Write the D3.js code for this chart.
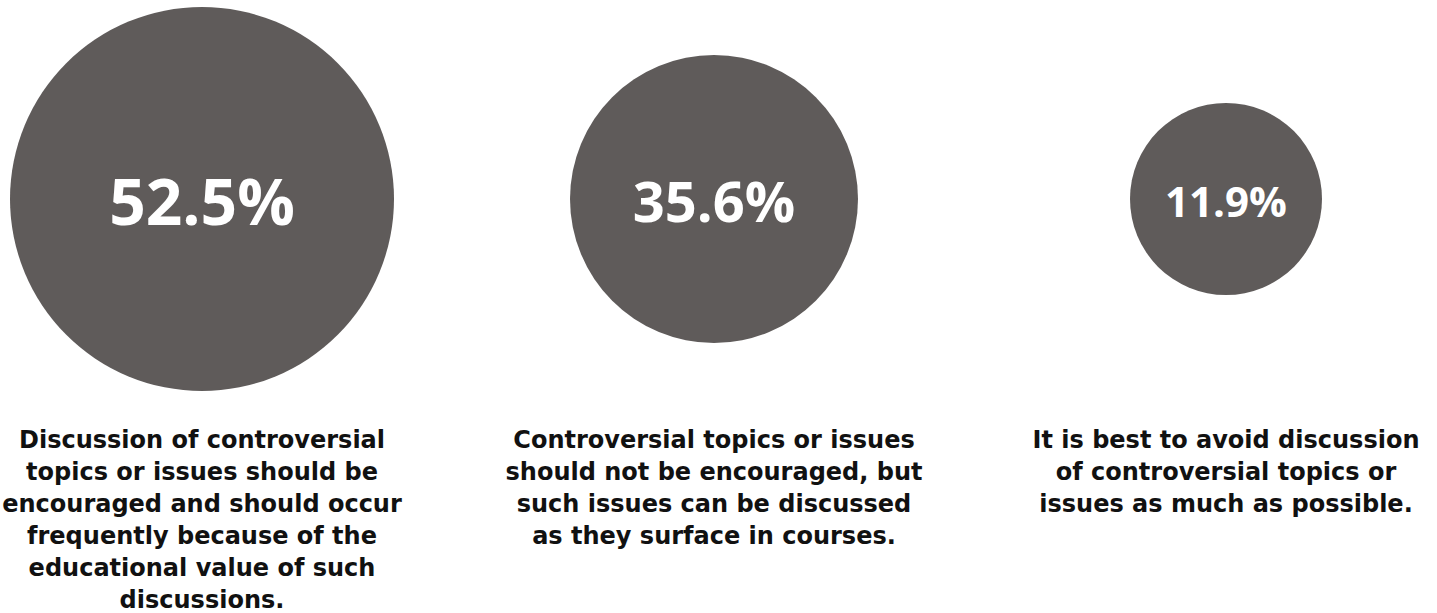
<!DOCTYPE html>
<html>
<head>
<meta charset="utf-8">
<script src="https://cdn.jsdelivr.net/npm/d3@7"></script>
<style>
  html, body { margin: 0; padding: 0; background: #ffffff; }
  svg { display: block; }
</style>
</head>
<body>
<svg id="chart" width="1437" height="613"></svg>
<script>
// Survey responses on discussing controversial topics in courses
const categories = ["encourage", "allow", "avoid"];
const values = [52.5, 35.6, 11.9];
const labelLines = [
  ["Discussion of controversial", "topics or issues should be", "encouraged and should occur", "frequently because of the", "educational value of such", "discussions."],
  ["Controversial topics or issues", "should not be encouraged, but", "such issues can be discussed", "as they surface in courses."],
  ["It is best to avoid discussion", "of controversial topics or", "issues as much as possible."]
];

const width = 1437, height = 613;
const svg = d3.select("#chart");

const x = d3.scalePoint().domain(categories).range([202, 1226]);
const cy = 199;

// Bubbles sized by rank of the share (largest first)
const order = values.map((v, i) => i).sort((a, b) => values[b] - values[a]);
const rank = new Map(order.map((idx, r) => [categories[idx], r]));
const radius = d3.scaleLinear().domain([0, 2]).range([192, 96]);
const fontSize = d3.scaleOrdinal().domain([0, 1, 2]).range([64, 56, 42]);

const data = categories.map((c, i) => ({ cat: c, value: values[i], lines: labelLines[i] }));

const g = svg.selectAll("g.item").data(data).join("g").attr("class", "item")
  .attr("transform", d => `translate(${x(d.cat)},0)`);

g.append("circle")
  .attr("cx", 0)
  .attr("cy", cy)
  .attr("r", d => radius(rank.get(d.cat)))
  .attr("fill", "#5f5b5a");

g.append("text")
  .attr("x", 0)
  .attr("y", d => cy + 3 + fontSize(rank.get(d.cat)) * 0.714 / 2)
  .attr("text-anchor", "middle")
  .attr("fill", "#ffffff")
  .attr("font-family", "'Open Sans', sans-serif")
  .attr("font-weight", 700)
  .attr("font-size", d => fontSize(rank.get(d.cat)))
  .text(d => d3.format(".1f")(d.value) + "%");

const labels = g.append("text")
  .attr("text-anchor", "middle")
  .attr("fill", "#111111")
  .attr("font-family", "'DejaVu Sans', sans-serif")
  .attr("font-weight", "bold")
  .attr("font-size", 24);

labels.selectAll("tspan").data(d => d.lines).join("tspan")
  .attr("x", 0)
  .attr("y", (d, i) => 448 + i * 32)
  .text(d => d);
</script>
</body>
</html>
